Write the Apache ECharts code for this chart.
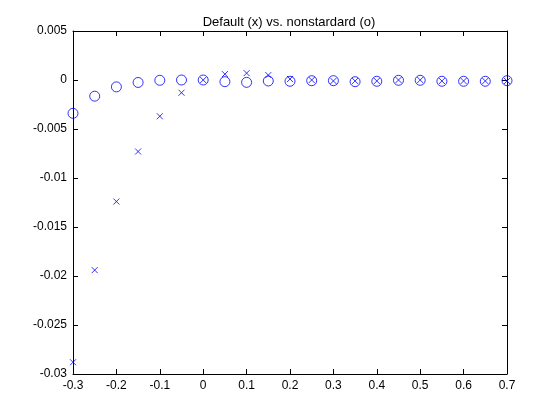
<!DOCTYPE html>
<html lang="en">
<head>
    <meta charset="UTF-8">
    <title>Default vs nonstandard</title>
    <script src="https://cdn.jsdelivr.net/npm/echarts@6/dist/echarts.min.js"></script>
    <style>
        body { margin: 0; background: #fff; }
    </style>
</head>
<body>
<div id="main" style="width: 560px;height:420px;"></div>
<script>
    var xs = [-0.3, -0.25, -0.2, -0.15, -0.1, -0.05, 0, 0.05, 0.1, 0.15, 0.2,
        0.25, 0.3, 0.35, 0.4, 0.45, 0.5, 0.55, 0.6, 0.65, 0.7];
    // default (x)
    var defaultVals = [-0.0288, -0.0194, -0.0124, -0.0073, -0.0037, -0.0013, 0, 0.0006, 0.0007, 0.0005, 0.0001,
        0, -0.0001, -0.0001, -0.0001, 0, 0, -0.0001, -0.0001, -0.0001, -0.0001];
    // nonstandard (o)
    var nonstdVals = [-0.0034, -0.00165, -0.0007, -0.00025, -0.00003, 0, 0, -0.00017, -0.00024, -0.0001, -0.00013,
        -0.00007, -0.00007, -0.00017, -0.00013, -0.00003, -0.00003, -0.00013, -0.00013, -0.00013, -0.00007];
    var xTicks = [-0.3, -0.2, -0.1, 0, 0.1, 0.2, 0.3, 0.4, 0.5, 0.6, 0.7];
    var yTicks = [0.005, 0, -0.005, -0.01, -0.015, -0.02, -0.025, -0.03];

    function pairs(ys) {
        var out = [];
        for (var i = 0; i < xs.length; i++) {
            out.push([xs[i], ys[i]]);
        }
        return out;
    }

    var lbl = { color: '#000', fontSize: 12, fontFamily: 'Liberation Sans, Arial, sans-serif' };
    var axisLine = { show: true, onZero: false, lineStyle: { color: '#000', width: 1 } };

    var myChart = echarts.init(document.getElementById('main'));
    var option = {
        animation: false,
        backgroundColor: '#fff',
        title: {
            text: 'Default (x) vs. nonstardard (o)',
            left: 284,
            textAlign: 'center',
            top: 11,
            textStyle: { fontSize: 13, fontWeight: 'normal', color: '#000', fontFamily: 'Liberation Sans, Arial, sans-serif' }
        },
        grid: { left: 73, right: 53, top: 31, bottom: 46 },
        xAxis: [{
            type: 'value', min: xTicks[0], max: xTicks[xTicks.length - 1], interval: 0.1,
            axisLine: axisLine,
            axisTick: { show: true, inside: true, length: 5, lineStyle: { color: '#000' } },
            axisLabel: Object.assign({ margin: 6, formatter: function (v) { return String(+v.toFixed(1)); } }, lbl),
            splitLine: { show: false }
        }, {
            type: 'value', position: 'top', min: xTicks[0], max: xTicks[xTicks.length - 1], interval: 0.1,
            axisLine: axisLine,
            axisTick: { show: true, inside: true, length: 5, lineStyle: { color: '#000' } },
            axisLabel: { show: false },
            splitLine: { show: false }
        }],
        yAxis: [{
            type: 'value', min: yTicks[yTicks.length - 1], max: yTicks[0], interval: 0.005,
            axisLine: axisLine,
            axisTick: { show: true, inside: true, length: 5, lineStyle: { color: '#000' } },
            axisLabel: Object.assign({ margin: 6, formatter: function (v) { return String(+v.toFixed(3)); } }, lbl),
            splitLine: { show: false }
        }, {
            type: 'value', position: 'right', min: yTicks[yTicks.length - 1], max: yTicks[0], interval: 0.005,
            axisLine: axisLine,
            axisTick: { show: true, inside: true, length: 5, lineStyle: { color: '#000' } },
            axisLabel: { show: false },
            splitLine: { show: false }
        }],
        series: [{
            name: 'nonstandard',
            type: 'scatter',
            clip: false,
            symbol: 'circle',
            symbolSize: 10,
            itemStyle: { color: 'rgba(0,0,0,0)', borderColor: '#0000ff', borderWidth: 1 },
            data: pairs(nonstdVals)
        }, {
            name: 'default',
            type: 'scatter',
            clip: false,
            symbol: 'path://M0,0L10,10M10,0L0,10',
            symbolSize: 6,
            itemStyle: { color: 'rgba(0,0,0,0)', borderColor: '#0000ff', borderWidth: 1 },
            data: pairs(defaultVals)
        }]
    };
    myChart.setOption(option);
</script>
</body>
</html>
